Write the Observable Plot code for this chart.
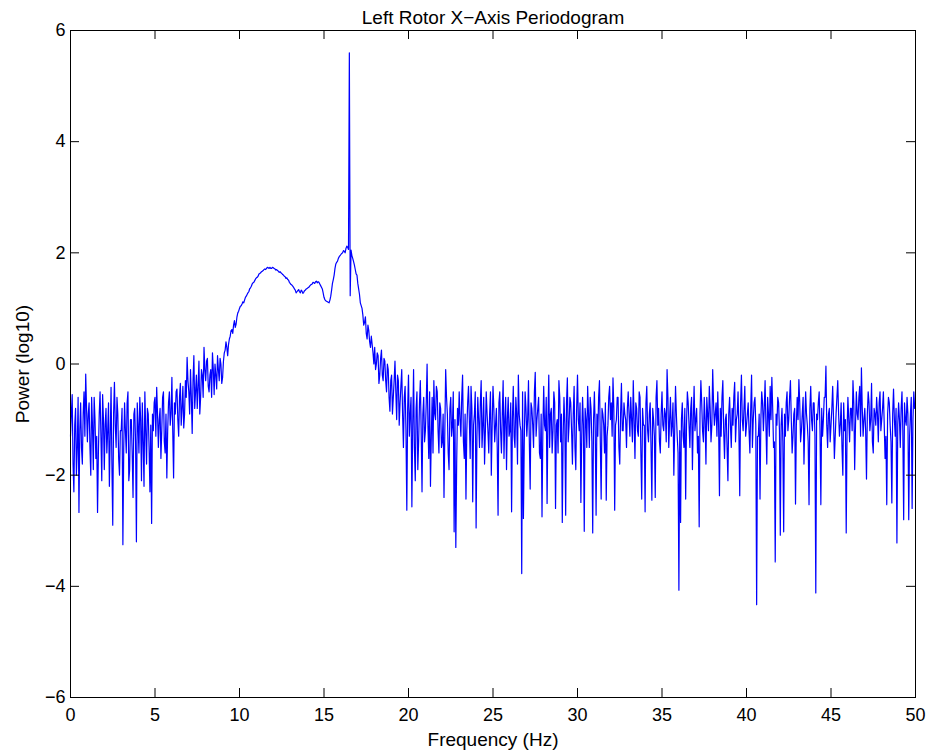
<!DOCTYPE html>
<html>
<head>
<meta charset="utf-8">
<script src="https://cdn.jsdelivr.net/npm/d3@7"></script>
<script src="https://cdn.jsdelivr.net/npm/@observablehq/plot@0.6"></script>
<style>
  html, body { margin: 0; padding: 0; background: #fff; }
  #chart { width: 930px; height: 750px; }
</style>
</head>
<body>
<div id="chart"></div>
<script>
const titleText = "Left Rotor X\u2212Axis Periodogram";
const xLabel = "Frequency (Hz)";
const yLabel = "Power (log10)";
const xTicks = [0, 5, 10, 15, 20, 25, 30, 35, 40, 45, 50];
const yTicks = [-6, -4, -2, 0, 2, 4, 6];
const freqStep = 0.1; // Hz between samples of each array
// log10 power at 0.0, 0.1, 0.2 ... 50.0 Hz (one row per Hz)
const powers = [
  -1.3, -0.55, -2.3, -0.8, -1.5, -2.67, -0.7, -1.8, -0.5, -0.18,
  -1.4, -0.7, -2.0, -1.1, -0.6, -1.7, -2.67, -0.9, -1.3, -0.55,
  -1.9, -0.8, -1.2, -2.2, -0.42, -2.9, -0.33, -1.5, -0.9, -2.0,
  -1.2, -3.25, -0.7, -1.6, -0.5, -1.9, -1.0, -2.4, -0.8, -3.2,
  -1.1, -0.6, -2.1, -1.4, -0.5, -1.8, -0.9, -2.3, -2.87, -1.2,
  -0.6, -0.42, -1.5, -0.8, -1.2, -0.5, -1.6, -2.05, -0.7, -1.1,
  -0.24, -2.05, -0.9, -0.45, -1.3, -0.35, -0.8, -1.15, -0.3, 0.12,
  -0.5, -0.1, -1.25, 0.15, -0.5, -0.8, 0.05, -0.6, -0.2, 0.3,
  -0.3, 0.1, -0.5, -0.1, 0.2, -0.55, -0.2, 0.15, -0.3, 0.0,
  -0.24, 0.2, 0.4, 0.15, 0.45, 0.6, 0.55, 0.78, 0.72, 0.92,
  1.0, 1.05, 1.12, 1.15, 1.22, 1.28, 1.35, 1.4, 1.46, 1.5,
  1.55, 1.58, 1.63, 1.66, 1.68, 1.71, 1.72, 1.73, 1.74, 1.72,
  1.73, 1.71, 1.7, 1.67, 1.66, 1.63, 1.6, 1.57, 1.55, 1.51,
  1.45, 1.42, 1.38, 1.33, 1.3, 1.34, 1.28, 1.31, 1.29, 1.33,
  1.36, 1.38, 1.42, 1.44, 1.46, 1.48, 1.46, 1.47, 1.41, 1.35,
  1.2, 1.14, 1.12, 1.1, 1.22, 1.45, 1.6, 1.8, 1.85, 1.93,
  1.97, 2.0, 2.03, 2.08, 2.1, 5.6, 2.05, 1.9, 1.78, 1.62,
  1.45, 1.25, 1.05, 0.88, 0.75, 0.55, 0.7, 0.4, 0.5, 0.2,
  0.3, 0.0, 0.15, -0.2, 0.25, -0.3, 0.05, -0.5, -0.1, -0.85,
  -0.2, -0.6, 0.05, -1.0, -0.3, -0.7, -0.1, -1.5, -0.4, -2.63,
  -0.2, -0.9, -2.57, -0.1, -2.1, -0.5, -1.4, -0.3, -2.3, -0.6,
  -1.2, 0.0, -1.7, -2.2, -0.6, -0.3, -1.0, -0.5, -1.6, -0.8,
  -1.4, -2.4, -0.1, -0.9, -1.9, -0.6, -1.1, -3.02, -3.3, -0.8,
  -0.5, -1.3, -0.2, -1.7, -2.43, -0.7, -1.0, -0.4, -2.48, -0.9,
  -2.95, -0.6, -1.5, -0.3, -1.1, -1.8, -0.5, -1.2, -0.9, -2.0,
  -0.4, -1.4, -0.8, -2.72, -0.5, -1.6, -0.3, -1.0, -1.9, -0.6,
  -1.2, -2.66, -0.4, -1.5, -0.9, -0.2, -1.1, -3.77, -2.78, -0.5,
  -1.3, -0.3, -2.25, -0.8, -1.5, -0.15, -1.0, -0.6, -1.7, -2.75,
  -0.4, -1.2, -2.51, -0.2, -0.9, -1.6, -0.5, -2.6, -1.0, -0.3,
  -1.4, -2.85, -0.6, -2.72, -0.25, -1.1, -0.7, -1.8, -0.4, -1.9,
  -0.2, -1.2, -2.49, -0.6, -3.01, -1.0, -0.4, -1.5, -0.8, -3.04,
  -0.5, -2.72, -1.3, -0.3, -2.43, -0.9, -1.6, -2.45, -1.1, -0.4,
  -0.7, -0.25, -2.63, -1.0, -0.6, -1.8, -0.35, -1.2, -0.9, -1.5,
  -0.5, -1.3, -1.0, -0.3, -1.7, -0.8, -1.3, -0.6, -2.43, -1.1,
  -2.66, -0.4, -1.4, -0.7, -2.45, -1.0, -2.4, -0.3, -0.8, -1.6,
  -0.5, -1.2, -0.9, -0.1, -1.5, -0.6, -1.1, -2.0, -0.4, -1.3,
  -4.07, -2.85, -0.7, -1.5, -2.43, -0.5, -1.1, -0.8, -1.9, -0.4,
  -1.0, -1.6, -2.93, -0.3, -1.2, -0.6, -1.8, -0.9, -0.4, -1.4,
  -0.1, -1.1, -0.7, -0.5, -2.37, -1.3, -0.3, -1.7, -0.9, -2.1,
  -0.6, -1.5, -1.1, -0.33, -1.0, -0.5, -2.37, -0.2, -1.2, -0.4,
  -1.1, -0.7, -1.6, -0.2, -1.0, -0.6, -4.33, -1.3, -2.43, -0.5,
  -1.2, -0.3, -1.8, -0.9, -0.4, -0.24, -1.5, -3.56, -1.1, -0.7,
  -3.08, -0.8, -3.02, -1.3, -0.5, -1.0, -0.3, -1.6, -0.9, -2.52,
  -0.6, -0.28, -1.4, -0.9, -1.8, -0.5, -1.1, -2.53, -0.4, -1.2,
  -0.7, -4.12, -1.0, -0.5, -2.53, -1.3, -0.6, -0.04, -1.5, -0.8,
  -1.1, -0.4, -1.7, -0.9, -0.3, -1.3, -0.7, -2.0, -1.2, -3.04,
  -0.6, -1.4, -0.8, -0.3, -1.9, -0.5, -1.0, -0.4, -0.07, -1.3,
  -0.8, -2.07, -0.5, -1.2, -0.35, -1.6, -0.9, -0.6, -1.4, -0.5,
  -1.0, -0.5, -1.7, -2.53, -0.6, -1.1, -2.5, -0.45, -1.3, -3.22,
  -0.7, -1.5, -0.5, -2.8, -1.0, -0.6, -2.8, -0.9, -2.6, -0.5,
  -0.7
];
// log10 power at the half-way frequencies 0.05, 0.15 ... 49.95 Hz (one row per Hz)
const powersMid = [
  -0.9, -1.8, -1.1, -2.0, -0.6, -1.2, -1.5, -0.9, -1.3, -0.8,
  -0.9, -1.5, -0.6, -1.9, -1.0, -1.3, -1.6, -0.5, -2.1, -1.0,
  -1.1, -1.6, -0.7, -1.3, -1.8, -0.9, -1.1, -0.6, -1.7, -1.2,
  -0.8, -1.5, -1.2, -0.7, -2.1, -1.0, -1.6, -0.9, -1.4, -0.7,
  -1.6, -1.0, -0.7, -2.2, -1.2, -0.8, -1.5, -1.1, -0.9, -0.7,
  -1.3, -0.9, -1.0, -1.7, -0.6, -1.4, -0.9, -1.2, -0.5, -0.9,
  -1.2, -0.7, -0.5, -1.0, -0.6, -1.1, -0.4, -0.9, -0.6, -0.3,
  -0.9, -0.6, -0.3, -0.8, -0.2, -0.4, -0.9, -0.1, -0.6, -0.1,
  0.05, -0.4, -0.2, -0.6, -0.1, 0.0, -0.45, -0.1, 0.1, -0.35,
  0.05, 0.25, 0.3, 0.35, 0.5, 0.62, 0.7, 0.66, 0.85, 0.95,
  1.04, 1.08, 1.1, 1.2, 1.25, 1.3, 1.37, 1.44, 1.47, 1.53,
  1.56, 1.62, 1.64, 1.67, 1.7, 1.7, 1.74, 1.72, 1.72, 1.74,
  1.72, 1.69, 1.68, 1.65, 1.64, 1.61, 1.58, 1.54, 1.52, 1.47,
  1.43, 1.4, 1.35, 1.28, 1.32, 1.3, 1.33, 1.27, 1.32, 1.35,
  1.37, 1.4, 1.43, 1.47, 1.45, 1.49, 1.48, 1.44, 1.38, 1.28,
  1.16, 1.13, 1.11, 1.15, 1.33, 1.52, 1.72, 1.83, 1.9, 1.95,
  1.99, 2.04, 2.0, 2.12, 2.06, 1.23, 1.95, 1.84, 1.7, 1.6,
  1.35, 1.1, 1.0, 0.7, 0.85, 0.45, 0.6, 0.3, 0.35, 0.0,
  -0.1, 0.2, -0.35, 0.1, -0.2, 0.1, -0.3, 0.0, -0.6, -0.3,
  -0.9, -0.3, -0.5, -0.2, -1.1, -0.4, -0.9, -0.6, -1.2, -0.8,
  -1.3, -0.6, -1.1, -1.5, -0.8, -1.9, -0.7, -1.2, -0.9, -1.4,
  -0.7, -1.1, -0.5, -1.3, -1.6, -0.9, -0.4, -1.2, -0.7, -1.5,
  -0.9, -1.2, -0.6, -1.6, -0.8, -1.3, -0.5, -1.0, -1.8, -1.1,
  -1.0, -0.6, -1.4, -0.9, -1.2, -0.4, -1.7, -0.8, -1.1, -0.5,
  -1.3, -1.0, -0.7, -1.5, -0.6, -1.2, -0.9, -1.6, -0.5, -1.1,
  -0.8, -1.1, -1.5, -0.7, -1.2, -0.9, -1.7, -0.6, -1.0, -1.3,
  -0.7, -1.0, -1.3, -0.6, -1.8, -0.9, -1.2, -0.5, -1.4, -0.8,
  -1.0, -1.4, -0.7, -1.1, -0.5, -1.3, -0.8, -1.6, -0.9, -1.2,
  -1.1, -0.6, -1.0, -1.5, -0.8, -1.2, -0.7, -1.1, -1.6, -0.6,
  -0.9, -1.3, -1.1, -0.7, -1.4, -0.6, -1.2, -0.9, -1.5, -0.8,
  -1.0, -0.7, -1.3, -1.1, -0.8, -1.5, -0.9, -0.6, -1.4, -1.0,
  -1.2, -0.9, -0.6, -1.4, -0.8, -1.1, -0.7, -1.3, -0.6, -1.0,
  -1.3, -0.8, -1.1, -0.6, -1.5, -0.9, -1.2, -0.7, -1.0, -0.8,
  -0.9, -0.6, -1.4, -1.0, -0.7, -1.2, -0.5, -1.6, -0.8, -1.1,
  -0.7, -1.2, -0.9, -1.5, -0.8, -1.3, -0.6, -1.1, -1.4, -0.9,
  -1.1, -0.8, -1.4, -0.6, -1.0, -1.3, -0.7, -1.2, -0.9, -1.6,
  -1.2, -1.0, -1.3, -0.8, -1.1, -0.7, -1.5, -0.6, -1.0, -1.2,
  -0.8, -1.3, -0.9, -0.7, -1.4, -1.0, -0.6, -1.2, -0.8, -1.1,
  -0.7, -0.9, -1.3, -1.1, -0.8, -0.6, -1.2, -1.0, -1.5, -0.9,
  -1.1, -0.8, -0.6, -1.4, -0.9, -1.2, -0.7, -1.0, -0.8, -1.3,
  -0.9, -1.2, -0.8, -1.5, -0.7, -1.1, -1.3, -0.9, -1.0, -0.7,
  -0.8, -1.1, -0.6, -1.3, -1.0, -0.8, -1.4, -0.9, -0.6, -1.2,
  -1.1, -1.4, -0.9, -0.7, -1.2, -0.6, -1.0, -1.3, -0.8, -1.1,
  -1.0, -0.7, -1.2, -0.6, -1.1, -0.9, -1.4, -0.8, -1.0, -0.7,
  -1.3, -0.9, -0.7, -1.2, -0.8, -1.0, -0.6, -1.1, -0.9, -1.4,
  -0.8, -1.0, -1.3, -0.6, -0.9, -1.1, -1.5, -0.7, -1.0, -1.2,
  -1.0, -0.8, -1.2, -0.7, -1.1, -0.9, -0.6, -1.3, -0.8, -1.0,
  -1.2, -0.9, -0.7, -1.0, -1.4, -0.8, -1.1, -0.9, -0.7, -1.2,
  -0.8, -1.1, -1.3, -0.9, -0.7, -1.4, -0.9, -1.0, -0.8, -1.1,
  -1.0, -0.8, -1.2, -0.7, -1.1, -0.9, -1.3, -0.6, -1.0, -0.8
];

const data = [];
powers.forEach((p, i) => {
  data.push({freq: i * freqStep, power: p});
  if (i < powersMid.length) data.push({freq: (i + 0.5) * freqStep, power: powersMid[i]});
});

const W = 930, H = 750;
const mL = 70, mR = 15, mT = 30, mB = 53;
const frameH = H - mT - mB, frameW = W - mL - mR;
const tickLen = 9;
const font = "'Liberation Sans', Arial, Helvetica, sans-serif";
const fmt = d3.format("d");

const chart = Plot.plot({
  width: W,
  height: H,
  marginLeft: mL,
  marginRight: mR,
  marginTop: mT,
  marginBottom: mB,
  style: {fontFamily: font, fontSize: "18px", color: "#000", background: "#fff", overflow: "visible"},
  x: {domain: [0, 50]},
  y: {domain: [-6, 6]},
  marks: [
    Plot.lineY(data, {x: "freq", y: "power", stroke: "#0000ff", strokeWidth: 1.2}),
    Plot.frame({stroke: "#000", strokeWidth: 1}),
    Plot.tickX(xTicks, {x: d => d, insetTop: frameH - tickLen, stroke: "#000"}),
    Plot.tickX(xTicks, {x: d => d, insetBottom: frameH - tickLen, stroke: "#000"}),
    Plot.tickY(yTicks, {y: d => d, insetLeft: frameW - tickLen, stroke: "#000"}),
    Plot.tickY(yTicks, {y: d => d, insetRight: frameW - tickLen, stroke: "#000"}),
    Plot.axisX(xTicks, {tickSize: 0, tickPadding: 11, fontSize: 18, tickFormat: fmt, label: null}),
    Plot.axisY(yTicks, {tickSize: 0, tickPadding: 5, fontSize: 18, tickFormat: fmt, label: null}),
    Plot.text([titleText], {text: d => d, frameAnchor: "top", lineAnchor: "middle", textAnchor: "middle", dy: -13, fontSize: 19, fill: "#000"}),
    Plot.text([xLabel], {text: d => d, frameAnchor: "bottom", lineAnchor: "middle", textAnchor: "middle", dy: 42, fontSize: 19, fill: "#000"}),
    Plot.text([yLabel], {text: d => d, frameAnchor: "left", lineAnchor: "middle", textAnchor: "middle", rotate: -90, dx: -48, fontSize: 19, fill: "#000"})
  ]
});

document.getElementById("chart").appendChild(chart);
</script>
</body>
</html>
